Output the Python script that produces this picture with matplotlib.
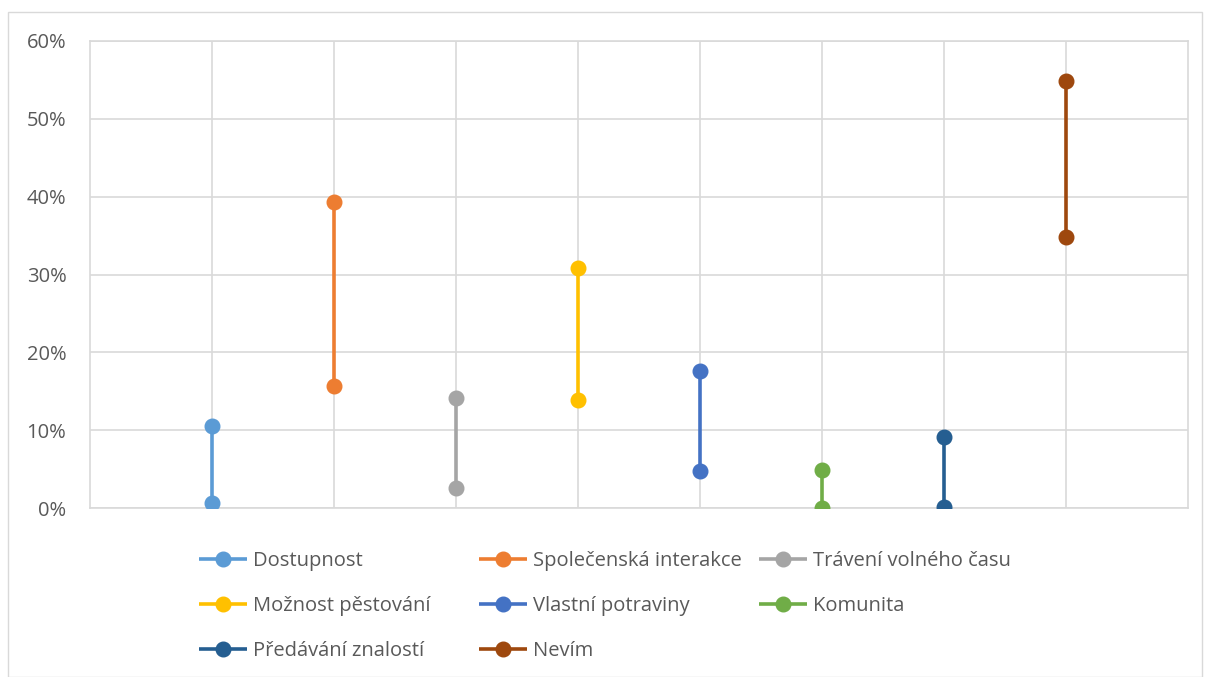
import matplotlib.pyplot as plt
from matplotlib.ticker import PercentFormatter
from matplotlib.patches import Rectangle

labels = ["Dostupnost", "Společenská interakce", "Trávení volného času",
          "Možnost pěstování", "Vlastní potraviny", "Komunita",
          "Předávání znalostí", "Nevím"]
high = [10.5, 39.3, 14.1, 30.8, 17.6, 4.9, 9.1, 54.8]
low = [0.7, 15.7, 2.6, 13.9, 4.7, 0.0, 0.1, 34.8]
colors = ["#5B9BD5", "#ED7D31", "#A5A5A5", "#FFC000",
          "#4472C4", "#70AD47", "#255E91", "#9E480E"]

plt.rcParams['font.family'] = ['Open Sans', 'DejaVu Sans']

fig = plt.figure(figsize=(12.05, 6.77), dpi=100)
ax = fig.add_axes([90 / 1205, 1 - 508 / 677, 1098 / 1205, 467 / 677])

handles = []
for i, (lab, h, l, c) in enumerate(zip(labels, high, low, colors)):
    line, = ax.plot([i + 1, i + 1], [l, h], color=c, lw=2.6, marker='o',
                    ms=10.5, label=lab, solid_capstyle='butt', zorder=3)
    handles.append(line)

ax.set_xlim(0, 9)
ax.set_ylim(0, 60)
ax.set_xticks(range(1, 9))
ax.set_xticklabels([])
ax.set_yticks(range(0, 61, 10))
ax.yaxis.set_major_formatter(PercentFormatter(decimals=0))
ax.tick_params(length=0, labelsize=14.5, labelcolor='#595959', pad=17)
ax.grid(True, color='#D9D9D9', lw=1.2)
ax.set_axisbelow(True)
for s in ax.spines.values():
    s.set_color('#D9D9D9')
    s.set_linewidth(1.2)

# legend in three columns like Excel
cols = [[0, 3, 6], [1, 4, 7], [2, 5]]
xs = [189, 469, 749]
for x, idx in zip(xs, cols):
    leg = fig.legend([handles[k] for k in idx], [labels[k] for k in idx],
                     loc='upper left', bbox_to_anchor=(x / 1205, 1 - 541 / 677),
                     frameon=False, fontsize=14.5, handlelength=2.4,
                     handletextpad=0.3, labelspacing=1.25, borderpad=0,
                     labelcolor='#595959')

fig.patches.append(Rectangle((8 / 1205, 0), 1194 / 1205, 1 - 12 / 677,
                             transform=fig.transFigure, fill=False,
                             edgecolor='#D9D9D9', lw=1.0))

fig.savefig("out.png", dpi=100)
